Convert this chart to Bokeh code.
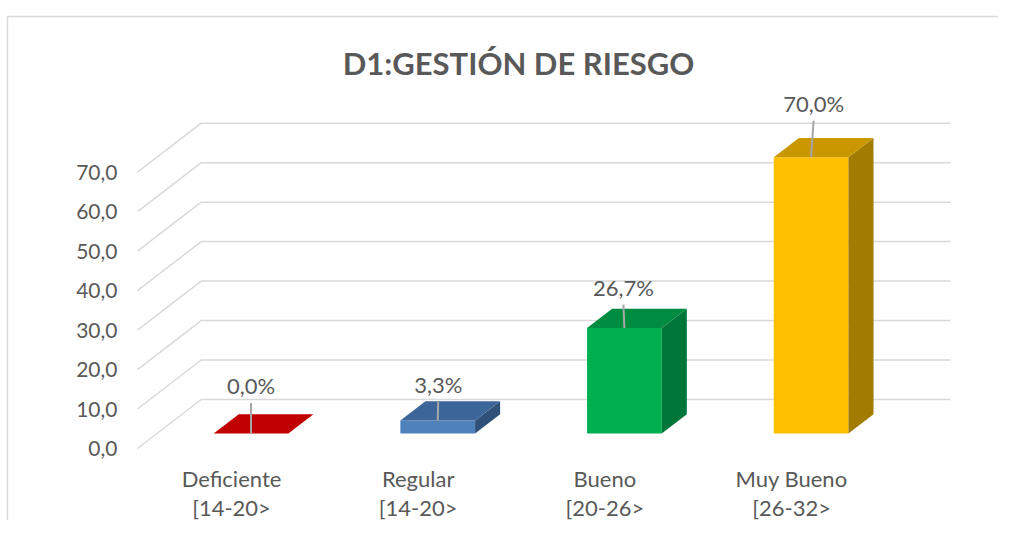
from bokeh.plotting import figure
from bokeh.models import Range1d, Label
from bokeh.core.properties import value
from bokeh.embed import file_html
from bokeh.resources import INLINE

# ---------------- data ----------------
categories = ["Deficiente", "Regular", "Bueno", "Muy Bueno"]
ranges_txt = ["[14-20>", "[14-20>", "[20-26>", "[26-32>"]
percent = [0.0, 3.3, 26.7, 70.0]
labels = ["0,0%", "3,3%", "26,7%", "70,0%"]
ticks = [0, 10, 20, 30, 40, 50, 60, 70]
tick_labels = ["0,0", "10,0", "20,0", "30,0", "40,0", "50,0", "60,0", "70,0"]
title = "D1:GESTIÓN DE RIESGO"

# ---------------- style ----------------
front_col = ["#C00000", "#4F81BD", "#00B050", "#FFC000"]
top_col = ["#C00000", "#3C6699", "#008C40", "#C99700"]
side_col = ["#8E0000", "#2F5178", "#00763A", "#A27C00"]
label_dy = [48, 36, 41, 54]     # px above bar top
label_dx = [0, 0.5, -1, 2.5]    # px
TXT = "#595959"
GRID = "#d9d9d9"
FONT = value("Lato")

W, H = 998, 520
PXX = 186.7     # px per category
PXY = 3.947     # px per value unit
X0 = 250.5      # canvas x of first category
Y0 = 433.0      # canvas y (from top) of value 0 on bar plane
KX = 1.3 / PXX  # depth shift in x per px depth
KY = 1.0 / PXY  # depth shift in y per px depth
ZF, ZB, ZBAR = -15.0, 34.0, 19.3
BW = 0.4

def cx(px):
    return (px - X0) / PXX

def cy(py):
    return (Y0 - py) / PXY

p = figure(width=W, height=H, output_backend="svg", toolbar_location=None,
           x_axis_type=None, y_axis_type=None, min_border=0,
           x_range=Range1d(cx(0), cx(W)), y_range=Range1d(cy(H), cy(0)))
p.outline_line_color = None
p.grid.visible = False
p.background_fill_color = "white"

# chart border (top and left)
p.line([cx(7), cx(7), cx(W + 5)], [cy(H + 5), cy(16), cy(16)], line_color=GRID, line_width=1.5)

# walls gridlines
xl = cx(137) - ZF * KX
xr = cx(950) - ZB * KX
gx, gy = [], []
for t in ticks:
    gx.append([xl + ZF * KX, xl + ZB * KX, xr + ZB * KX])
    gy.append([t + ZF * KY, t + ZB * KY, t + ZB * KY])
p.multi_line(gx, gy, line_color=GRID, line_width=1.5)

# tick labels
p.text(x=[cx(117)] * len(ticks), y=[t + ZF * KY for t in ticks], text=tick_labels,
       text_align="right", text_baseline="middle", text_font=FONT,
       text_font_size="21px", text_color=TXT)

# bars
dx, dy = ZBAR * KX, ZBAR * KY
for i, v in enumerate(percent):
    l, r = i - BW / 2, i + BW / 2
    p.patch([l, r, r, l], [0, 0, v, v], fill_color=front_col[i], line_color=None)
    p.patch([r, r + dx, r + dx, r], [0, dy, v + dy, v], fill_color=side_col[i], line_color=None)
    p.patch([l, r, r + dx, l + dx], [v, v, v + dy, v + dy], fill_color=top_col[i], line_color=None)

# leader lines and data labels
idx = list(range(len(percent)))
p.segment(x0=[i + label_dx[i] / PXX for i in idx],
          y0=[percent[i] + (label_dy[i] - 17.5) / PXY for i in idx],
          x1=idx, y1=percent, line_color="#a6a6a6", line_width=2)
p.text(x=[i + label_dx[i] / PXX for i in idx],
       y=[percent[i] + label_dy[i] / PXY for i in idx], text=labels,
       text_align="center", text_baseline="middle", text_font=FONT,
       text_font_size="22px", text_color=TXT)

# category labels
catx = [i + ZF * KX for i in idx]
caty = [ZF * KY] * len(idx)
p.text(x=catx, y=caty, text=categories, y_offset=30, text_align="center",
       text_baseline="middle", text_font=FONT, text_font_size="22px", text_color=TXT)
p.text(x=catx, y=caty, text=ranges_txt, y_offset=59, text_align="center",
       text_baseline="middle", text_font=FONT, text_font_size="22px", text_color=TXT)

# title
p.add_layout(Label(x=518, y=H - 62, x_units="screen", y_units="screen", text=title,
                   text_align="center", text_baseline="middle", text_font="Lato",
                   text_font_style="bold", text_font_size="31px", text_color=TXT))

open("out.html", "w").write(file_html(p, INLINE))
